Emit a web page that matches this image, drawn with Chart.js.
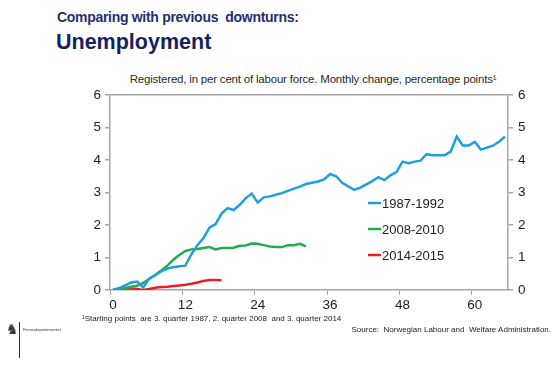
<!DOCTYPE html>
<html>
<head>
<meta charset="utf-8">
<script src="https://cdn.jsdelivr.net/npm/chart.js@4/dist/chart.umd.min.js"></script>
<style>
  body { margin: 0; background: #fff; width: 560px; height: 367px; overflow: hidden; position: relative; font-family: "Liberation Sans", Arial, sans-serif; }
  #chart { position: absolute; left: 0; top: 0; }
  .t1 { position: absolute; left: 57px; top: 9px; font-size: 14px; font-weight: bold; color: #1f2f6e; letter-spacing: -0.3px; }
  .t2 { position: absolute; left: 56px; top: 30px; font-size: 21.5px; font-weight: bold; color: #14235f; }
  .sub { position: absolute; left: 0; width: 626px; top: 73px; text-align: center; font-size: 11.5px; color: #2a2a2a; letter-spacing: -0.2px; }
  .foot { position: absolute; left: 82px; top: 314px; font-size: 8px; color: #222; }
  .src { position: absolute; right: 9px; top: 325px; font-size: 8px; color: #222; }
  .logo { position: absolute; left: 6px; top: 321px; font-size: 14px; color: #333; font-family: "DejaVu Sans"; }
  .vline { position: absolute; left: 19px; top: 322px; width: 1px; height: 36px; background: #333; }
  .dept { position: absolute; left: 23px; top: 327px; font-size: 4px; color: #333; }
</style>
</head>
<body>
<div class="t1">Comparing with previous&nbsp; downturns:</div>
<div class="t2">Unemployment</div>
<div class="sub">Registered, in per cent of labour force. Monthly change, percentage points¹</div>
<canvas id="chart" width="560" height="367"></canvas>
<div class="foot">¹Starting points&nbsp; are 3. quarter 1987, 2. quarter 2008&nbsp; and 3. quarter 2014</div>
<div class="src">Source:&nbsp; Norwegian Labour and&nbsp; Welfare Administration.</div>
<div class="logo">♞</div>
<div class="vline"></div>
<div class="dept">Finansdepartementet</div>
<script>
// months since the starting point
const months = Array.from({ length: 66 }, (_, i) => i);
const yTicks = [0, 1, 2, 3, 4, 5, 6];
const seriesNames = ['1987-1992', '2008-2010', '2014-2015'];
const seriesColors = ['#1e9fe2', '#1fae4b', '#ee1c25'];

const s1987 = [0, 0.06, 0.14, 0.23, 0.26, 0.08, 0.35, 0.46, 0.57, 0.66,
  0.7, 0.73, 0.75, 1.1, 1.38, 1.6, 1.92, 2.03, 2.35, 2.52,
  2.46, 2.62, 2.82, 2.97, 2.69, 2.85, 2.88, 2.93, 2.98, 3.05,
  3.12, 3.18, 3.26, 3.3, 3.34, 3.4, 3.57, 3.5, 3.3, 3.19,
  3.08, 3.15, 3.25, 3.35, 3.47, 3.38, 3.53, 3.63, 3.95, 3.9,
  3.95, 3.98, 4.18, 4.15, 4.15, 4.15, 4.26, 4.72, 4.45, 4.45,
  4.56, 4.32, 4.38, 4.44, 4.56, 4.72];
const s2008 = [0, 0.03, 0.06, 0.1, 0.13, 0.22, 0.34, 0.46, 0.6, 0.75,
  0.93, 1.08, 1.2, 1.25, 1.26, 1.29, 1.32, 1.25, 1.29, 1.29,
  1.3, 1.36, 1.37, 1.43, 1.42, 1.38, 1.34, 1.32, 1.32, 1.38,
  1.38, 1.42, 1.34];
const s2014 = [0, 0.03, 0.05, 0.05, 0.03, 0, 0.03, 0.07, 0.09, 0.1,
  0.12, 0.14, 0.16, 0.19, 0.23, 0.28, 0.31, 0.31, 0.3];

const axisGrey = '#a6a6a6';
const tickFont = { family: 'Liberation Sans', size: 13.5 };

// legend drawn inside the plot area
const innerLegend = {
  id: 'innerLegend',
  afterDraw(chart) {
    const ctx = chart.ctx;
    const area = chart.chartArea;
    const x = area.left + 258;
    ctx.save();
    ctx.font = '13px "Liberation Sans"';
    ctx.textBaseline = 'middle';
    chart.data.datasets.forEach((ds, i) => {
      const y = area.top + 108 + i * 26;
      ctx.strokeStyle = ds.borderColor;
      ctx.lineWidth = 2.5;
      ctx.beginPath();
      ctx.moveTo(x, y);
      ctx.lineTo(x + 13, y);
      ctx.stroke();
      ctx.fillStyle = '#222';
      ctx.fillText(ds.label, x + 14, y + 1);
    });
    ctx.restore();
  }
};

new Chart(document.getElementById('chart'), {
  type: 'line',
  data: {
    labels: months,
    datasets: [
      { label: seriesNames[0], data: s1987, borderColor: seriesColors[0] },
      { label: seriesNames[1], data: s2008, borderColor: seriesColors[1] },
      { label: seriesNames[2], data: s2014, borderColor: seriesColors[2] }
    ].map(d => ({ ...d, borderWidth: 2.5, pointRadius: 0, tension: 0, fill: false }))
  },
  options: {
    responsive: false,
    animation: false,
    layout: { padding: { left: 80, right: 22, top: 95, bottom: 52 } },
    plugins: { legend: { display: false }, tooltip: { enabled: false } },
    scales: {
      x: {
        type: 'category',
        offset: true,
        afterFit: s => { s.height = 25; },
        grid: {
          offset: true,
          color: 'transparent',
          tickColor: c => (c.index % 12 === 0 ? axisGrey : 'transparent'),
          tickLength: 5
        },
        border: { color: axisGrey, width: 1.5 },
        ticks: {
          autoSkip: false,
          maxRotation: 0,
          padding: 2,
          color: '#222',
          font: tickFont,
          callback: (v, i) => (months[i] % 12 === 0 ? String(months[i]) : '')
        }
      },
      y: {
        position: 'left',
        min: yTicks[0],
        max: yTicks[yTicks.length - 1],
        afterFit: s => { s.width = 30; },
        afterBuildTicks: s => { s.ticks = yTicks.map(v => ({ value: v })); },
        grid: {
          color: c => (c.tick && c.tick.value === 6 ? axisGrey : 'transparent'),
          tickColor: axisGrey,
          tickLength: 5,
          lineWidth: 1.5
        },
        border: { color: axisGrey, width: 1.5 },
        ticks: { color: '#222', font: tickFont, padding: 4 }
      },
      y1: {
        position: 'right',
        min: yTicks[0],
        max: yTicks[yTicks.length - 1],
        afterFit: s => { s.width = 30; },
        afterBuildTicks: s => { s.ticks = yTicks.map(v => ({ value: v })); },
        grid: { drawOnChartArea: false, color: axisGrey, tickLength: 5, lineWidth: 1.5 },
        border: { color: axisGrey, width: 1.5 },
        ticks: { color: '#222', font: tickFont, padding: 5 }
      }
    }
  },
  plugins: [innerLegend]
});
</script>
</body>
</html>
